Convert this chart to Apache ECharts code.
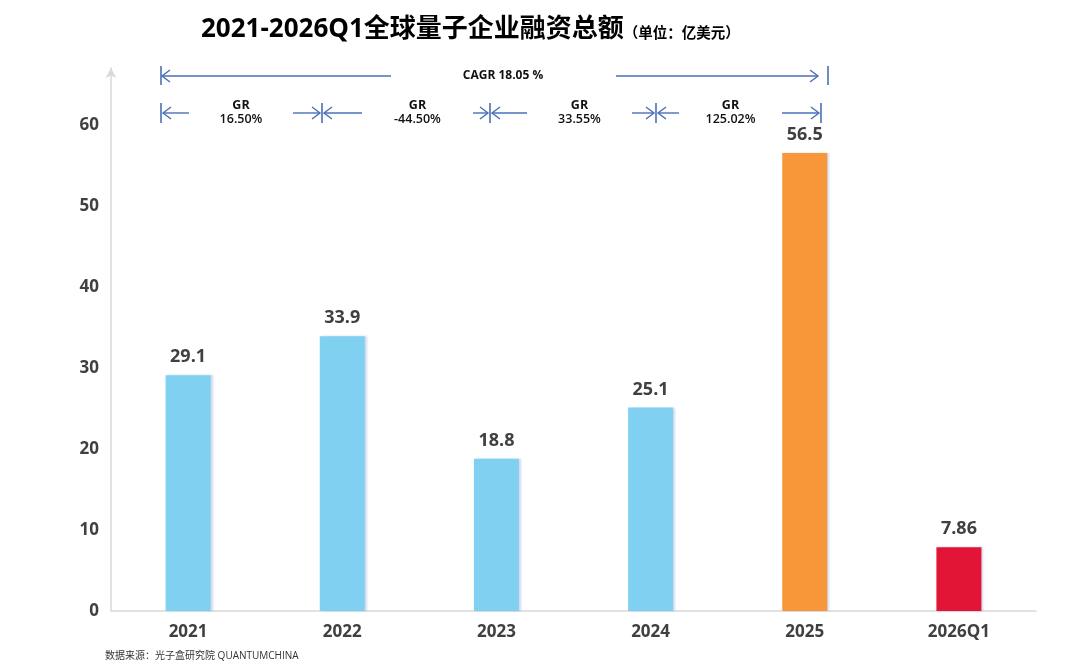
<!DOCTYPE html>
<html><head><meta charset="utf-8">
<script src="https://cdn.jsdelivr.net/npm/echarts@6/dist/echarts.min.js"></script>
<style>html,body{margin:0;padding:0;background:#fff}#c{width:1080px;height:667px}</style>
</head><body><div id="c"></div>
<script>
const categories = ['2021','2022','2023','2024','2025','2026Q1'];
const values = [29.1, 33.9, 18.8, 25.1, 56.5, 7.86];
const barColors = ['#7fd0f1','#7fd0f1','#7fd0f1','#7fd0f1','#f7973a','#e31536'];
const grLabels = ['16.50%','-44.50%','33.55%','125.02%'];
const cagrLabel = 'CAGR 18.05 %';
const yTicks = [0,10,20,30,40,50,60];

const FONT = "'Open Sans','Noto Sans CJK SC',sans-serif";
const BLUE = '#4a6fb8';
const chart = echarts.init(document.getElementById('c'));

function arrowLine(x1, x2, y, headAt) {
  const hx = headAt === 'left' ? x1 : x2;
  const d = headAt === 'left' ? 8 : -8;
  return [
    {type:'line', shape:{x1:x1, y1:y, x2:x2, y2:y}, style:{stroke:BLUE, lineWidth:1.4}},
    {type:'polyline', shape:{points:[[hx+d, y-6],[hx, y],[hx+d, y+6]]}, style:{stroke:BLUE, lineWidth:1.4, fill:null}}
  ];
}
function vtick(x, y1, y2) {
  return {type:'line', shape:{x1:x, y1:y1, x2:x, y2:y2}, style:{stroke:BLUE, lineWidth:1.6}};
}
const g = [];
g.push(vtick(161, 66, 85), vtick(828, 66, 85));
g.push(...arrowLine(162, 391, 76, 'left'));
g.push(...arrowLine(616, 818, 76, 'right'));
g.push({type:'text', x:503, y:76, style:{text:cagrLabel, font:"bold 12px "+FONT, fill:'#111', align:'center', verticalAlign:'middle'}});
const ticksX = [161, 322, 490, 656, 821];
const segs = [[189,293],[362,473],[527,632],[679,782]];
ticksX.forEach(x => g.push(vtick(x, 103, 123)));
for (let i = 0; i < 4; i++) {
  const a = ticksX[i], b = ticksX[i+1];
  g.push(...arrowLine(a+2, segs[i][0], 113, 'left'));
  g.push(...arrowLine(segs[i][1], b-2, 113, 'right'));
  const cx = (segs[i][0] + segs[i][1]) / 2;
  g.push({type:'text', x:cx, y:105, style:{text:'GR', font:"bold 12.5px "+FONT, fill:'#111', align:'center', verticalAlign:'middle'}});
  g.push({type:'text', x:cx, y:119, style:{text:grLabels[i], font:"600 12.5px "+FONT, fill:'#111', align:'center', verticalAlign:'middle'}});
}
g.push({type:'text', x:105, y:656, style:{text:'数据来源：光子盒研究院 QUANTUMCHINA', font:"10px "+FONT, fill:'#333', verticalAlign:'middle'}});

chart.setOption({
  animation:false,
  title:{
    left:196, top:12,
    text:'{a|2021-2026Q1全球量子企业融资总额}{b|（单位：亿美元）}',
    textStyle:{rich:{
      a:{fontFamily:FONT, fontSize:26, fontWeight:'bold', color:'#000'},
      b:{fontFamily:FONT, fontSize:14.5, fontWeight:'bold', color:'#000', padding:[7,0,0,0]}
    }}
  },
  grid:{left:111, right:44, top:68, bottom:56},
  xAxis:{
    type:'category', data:categories,
    axisLine:{lineStyle:{color:'#d9d9d9', width:1.5}},
    axisTick:{show:false},
    axisLabel:{fontFamily:FONT, fontSize:17, fontWeight:'bold', color:'#404040', margin:13}
  },
  yAxis:{
    type:'value', min:0, max:67, interval:10,
    axisLine:{show:true, symbol:['none','arrow'], symbolSize:[8,10], lineStyle:{color:'#d9d9d9', width:1.5}},
    axisTick:{show:false},
    splitLine:{show:false},
    axisLabel:{showMaxLabel:false, fontFamily:FONT, fontSize:17, fontWeight:'bold', color:'#404040', margin:12,
      formatter: v => yTicks.includes(v) ? String(v) : ''}
  },
  series:[{
    type:'bar', barWidth:45,
    data: values.map((v,i) => ({value:v, itemStyle:{color:barColors[i]}})),
    itemStyle:{shadowColor:'rgba(120,150,200,0.35)', shadowOffsetX:2, shadowBlur:2},
    label:{show:true, position:'top', distance:9, fontFamily:FONT, fontSize:18, fontWeight:'bold', color:'#404040'}
  }],
  graphic: g
});
</script></body></html>
